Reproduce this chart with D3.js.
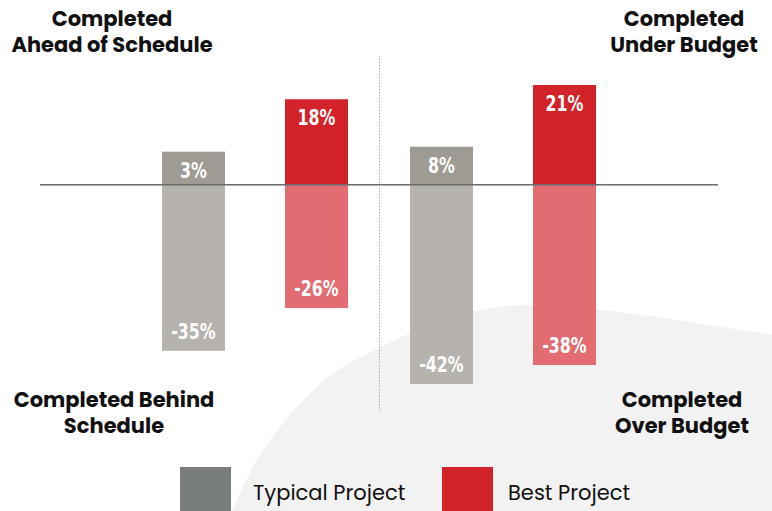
<!DOCTYPE html>
<html>
<head>
<meta charset="utf-8">
<script src="https://cdn.jsdelivr.net/npm/d3@7"></script>
<style>
  html, body { margin: 0; padding: 0; background: #ffffff; }
  svg { display: block; }
</style>
</head>
<body>
<div id="chart"></div>
<script>
// ---- data ----
const categories = ["Schedule", "Budget"];
const seriesNames = ["Typical Project", "Best Project"];
const typicalPositive = [3, 8];
const typicalNegative = [-35, -42];
const bestPositive = [18, 21];
const bestNegative = [-26, -38];
const cornerLabels = [
  ["Completed", "Ahead of Schedule"],
  ["Completed", "Under Budget"],
  ["Completed Behind", "Schedule"],
  ["Completed", "Over Budget"]
];
// background blob outline (decorative)
const blobPoints = [[232, 511], [262, 452], [322, 382], [385, 345], [445, 320], [507, 306], [600, 310], [772, 335]];

const W = 772, H = 511;
const svg = d3.select("#chart").append("svg").attr("width", W).attr("height", H);

// decorative background shape
const blob = d3.line().curve(d3.curveCatmullRom.alpha(0.5));
svg.append("path")
  .attr("d", blob(blobPoints) + "L772,511Z")
  .attr("fill", "#f2f2f2");

// scales
const x0 = d3.scaleBand().domain(categories).range([162, 596]).paddingInner(0.25).paddingOuter(0);
const x1 = d3.scaleBand().domain(["typical", "best"]).range([0, x0.bandwidth()]).paddingInner(0.488).paddingOuter(0);
const y = d3.scaleLinear().domain([-42, 21]).range([384, 85]);
const y0 = y(0);
const minH = 33;

const colors = {
  typical: { pos: "#9e9b94", neg: "#b2afaa" },
  best: { pos: "#d2232a", neg: "#e0646a" }
};

const bars = [];
categories.forEach((c, i) => {
  bars.push({ cat: c, s: "typical", v: typicalPositive[i] });
  bars.push({ cat: c, s: "typical", v: typicalNegative[i] });
  bars.push({ cat: c, s: "best", v: bestPositive[i] });
  bars.push({ cat: c, s: "best", v: bestNegative[i] });
});

function barTop(d) { return d.v >= 0 ? Math.min(y(d.v), y0 - minH) : y0; }
function barBottom(d) { return d.v >= 0 ? y0 : y(d.v); }

svg.append("g").selectAll("rect").data(bars).join("rect")
  .attr("x", d => x0(d.cat) + x1(d.s))
  .attr("width", x1.bandwidth())
  .attr("y", d => barTop(d))
  .attr("height", d => barBottom(d) - barTop(d))
  .attr("fill", d => d.v >= 0 ? colors[d.s].pos : colors[d.s].neg)
  .attr("fill-opacity", d => d.v >= 0 ? 1 : 0.95);

svg.append("g").selectAll("text").data(bars).join("text")
  .attr("transform", d => {
    const tx = x0(d.cat) + x1(d.s) + x1.bandwidth() / 2;
    const ty = d.v >= 0 ? barTop(d) + 26 : barBottom(d) - 12;
    return `translate(${tx},${ty}) scale(0.8,1)`;
  })
  .attr("text-anchor", "middle")
  .attr("font-family", "'Liberation Sans Narrow', 'DejaVu Sans Condensed', 'Roboto Condensed', sans-serif")
  .attr("font-weight", 700)
  .attr("font-size", 22)
  .attr("fill", "#ffffff")
  .text(d => d.v + "%");

// zero baseline
svg.append("line")
  .attr("x1", 40).attr("x2", 718)
  .attr("y1", y0).attr("y2", y0)
  .attr("stroke", "#6b6b6b").attr("stroke-width", 1.5);

// vertical dotted separator
svg.append("line")
  .attr("x1", 379.5).attr("x2", 379.5)
  .attr("y1", 56).attr("y2", 411)
  .attr("stroke", "#a8a8a8").attr("stroke-width", 1)
  .attr("stroke-dasharray", "1.5,1.5");

// corner labels (each line its own text element)
const cornerPos = [
  { x: 112, y: 26 },
  { x: 684, y: 26 },
  { x: 114, y: 407 },
  { x: 682, y: 407 }
];
const cg = svg.append("g")
  .attr("font-family", "Poppins, 'Open Sans', 'Noto Sans', sans-serif")
  .attr("font-weight", 700)
  .attr("font-size", 21)
  .attr("fill", "#111111")
  .attr("text-anchor", "middle");
cornerLabels.forEach((lines, i) => {
  lines.forEach((ln, j) => {
    cg.append("text")
      .attr("x", cornerPos[i].x)
      .attr("y", cornerPos[i].y + j * 26)
      .text(ln);
  });
});

// legend
const legendX = [180, 442];
const legendTextX = [253, 508];
const legendColors = ["#7a7d7d", "#d2232a"];
const lg = svg.append("g");
seriesNames.forEach((name, i) => {
  lg.append("rect").attr("x", legendX[i]).attr("y", 467).attr("width", 51).attr("height", 51)
    .attr("fill", legendColors[i]);
  lg.append("text").attr("x", legendTextX[i]).attr("y", 500)
    .attr("font-family", "Poppins, 'Open Sans', 'Noto Sans', sans-serif")
    .attr("font-size", 21)
    .attr("fill", "#111111")
    .text(name);
});
</script>
</body>
</html>
